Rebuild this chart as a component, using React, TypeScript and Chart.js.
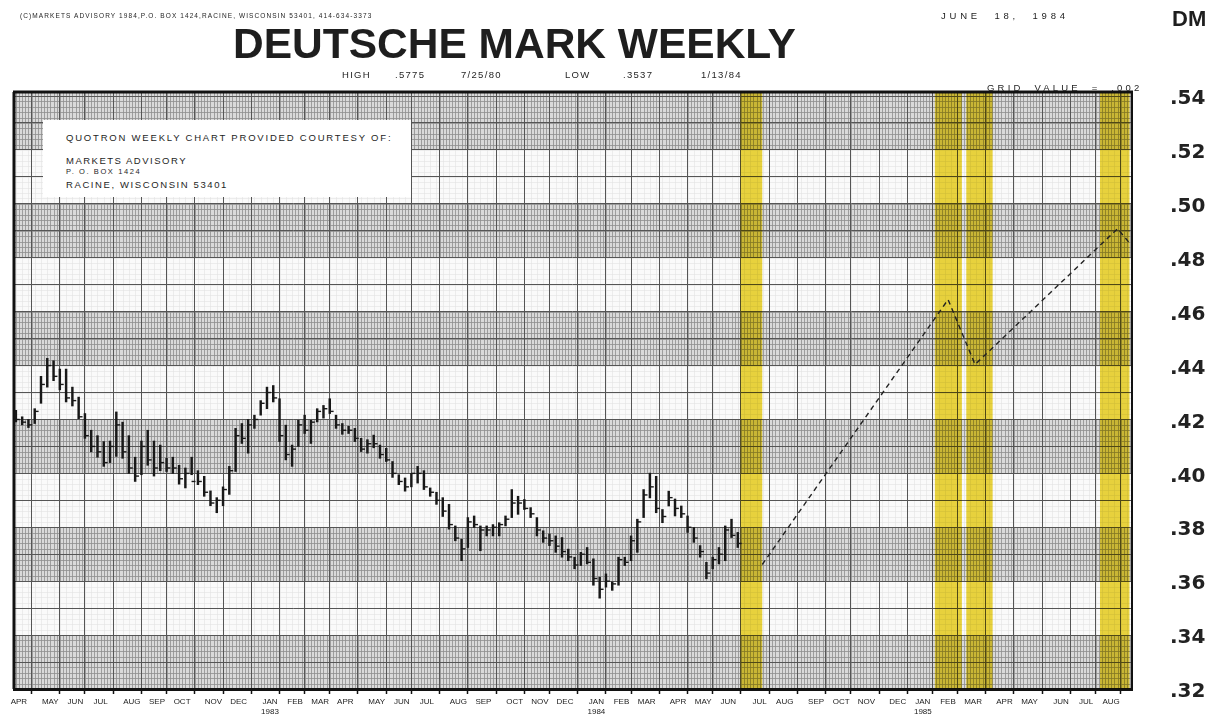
import React, { useEffect, useRef } from "react";
import { Chart, registerables } from "chart.js";

Chart.register(...registerables);

// ---------- DATA ----------
// weekly bars, week 0 = week ending Apr 2 1982, last = week ending Jun 15 1984
const weeklyHigh = [
  0.4234, 0.421, 0.42, 0.424, 0.436, 0.4427, 0.4418, 0.4387, 0.4387, 0.432,
  0.4283, 0.4222, 0.416, 0.414, 0.4118, 0.412, 0.4228, 0.419, 0.414, 0.406,
  0.412, 0.416, 0.412, 0.4105, 0.4056, 0.406, 0.403, 0.402, 0.406, 0.401,
  0.3989, 0.3935, 0.391, 0.395, 0.4026, 0.4167, 0.4185, 0.42, 0.4216, 0.427,
  0.432, 0.4326, 0.4277, 0.4179, 0.4105, 0.4197, 0.4216, 0.4197, 0.424, 0.4252,
  0.4277, 0.4216, 0.4185, 0.4175, 0.4167, 0.413, 0.4125, 0.4142, 0.4105, 0.4093,
  0.4044, 0.3995, 0.3983, 0.4, 0.4026, 0.401, 0.3946, 0.393, 0.391, 0.3885,
  0.3805, 0.3756, 0.3836, 0.3842, 0.3805, 0.3805, 0.381, 0.3817, 0.3842, 0.394,
  0.3915, 0.3903, 0.3873, 0.3836, 0.3787, 0.3775, 0.3768, 0.3762, 0.3719, 0.3689,
  0.3707, 0.3725, 0.3683, 0.3615, 0.3627, 0.3597, 0.3689, 0.3689, 0.3768, 0.383,
  0.394, 0.4001, 0.3989, 0.3866, 0.3934, 0.3905, 0.3879, 0.3842, 0.3799, 0.3732,
  0.367, 0.3689, 0.3725, 0.3805, 0.383, 0.3781,
];
const weeklyLow = [
  0.4191, 0.418, 0.417, 0.4185, 0.426, 0.432, 0.4344, 0.431, 0.4265, 0.425,
  0.4203, 0.413, 0.408, 0.406, 0.4026, 0.404, 0.4063, 0.4056, 0.4, 0.397,
  0.3995, 0.403, 0.399, 0.401, 0.4007, 0.4, 0.396, 0.3946, 0.3995, 0.3958,
  0.3915, 0.388, 0.3854, 0.388, 0.3922, 0.4007, 0.4111, 0.4075, 0.4167, 0.4216,
  0.424, 0.4265, 0.4118, 0.405, 0.4026, 0.41, 0.4148, 0.4111, 0.4191, 0.4205,
  0.4222, 0.4167, 0.4145, 0.4148, 0.4118, 0.4081, 0.4075, 0.4095, 0.4056, 0.4044,
  0.3985, 0.3958, 0.3934, 0.395, 0.3964, 0.394, 0.3915, 0.3885, 0.384, 0.3793,
  0.375, 0.3676, 0.3725, 0.3799, 0.3713, 0.3768, 0.3768, 0.3768, 0.3805, 0.3836,
  0.3848, 0.3866, 0.3836, 0.3768, 0.3744, 0.3732, 0.3707, 0.3689, 0.3676, 0.3646,
  0.3658, 0.3664, 0.3585, 0.3537, 0.3578, 0.3566, 0.3585, 0.3658, 0.3676, 0.3707,
  0.3836, 0.3909, 0.3854, 0.3817, 0.3879, 0.3842, 0.3836, 0.3781, 0.3744, 0.3689,
  0.3609, 0.3646, 0.3664, 0.3676, 0.3762, 0.3725,
];
const weeklyClose = [
  0.42, 0.419, 0.418, 0.423, 0.433, 0.44, 0.436, 0.433, 0.428, 0.427,
  0.421, 0.414, 0.41, 0.408, 0.404, 0.41, 0.418, 0.408, 0.402, 0.399,
  0.41, 0.405, 0.402, 0.404, 0.402, 0.402, 0.398, 0.4, 0.397, 0.397,
  0.393, 0.389, 0.39, 0.394, 0.401, 0.414, 0.413, 0.418, 0.42, 0.426,
  0.43, 0.428, 0.414, 0.407, 0.409, 0.418, 0.416, 0.419, 0.423, 0.424,
  0.423, 0.418, 0.416, 0.416, 0.413, 0.409, 0.411, 0.411, 0.407, 0.405,
  0.4, 0.397, 0.395, 0.4, 0.4, 0.395, 0.393, 0.39, 0.386, 0.381,
  0.376, 0.372, 0.382, 0.381, 0.379, 0.379, 0.38, 0.381, 0.383, 0.389,
  0.389, 0.387, 0.385, 0.379, 0.376, 0.375, 0.373, 0.371, 0.369, 0.366,
  0.37, 0.367, 0.361, 0.357, 0.36, 0.359, 0.368, 0.367, 0.375, 0.382,
  0.392, 0.395, 0.387, 0.384, 0.391, 0.387, 0.385, 0.38, 0.376, 0.371,
  0.363, 0.368, 0.37, 0.379, 0.377, 0.374,
];

// dashed projection (week position, value)
const projectionWeeks = [118.9, 148.5, 152.8, 175.5, 177.4];
const projectionValues = [0.3662, 0.4645, 0.4404, 0.4908, 0.4855];

// yellow highlight columns (week from, week to)
const highlightFrom = [115.4, 146.4, 151.4, 172.7];
const highlightTo = [118.9, 150.7, 155.6, 177.4];

// month ticks (week index of first weekly bar of month)
const monthLabels = [
  "APR", "MAY", "JUN", "JUL", "AUG", "SEP", "OCT", "NOV", "DEC",
  "JAN", "FEB", "MAR", "APR", "MAY", "JUN", "JUL", "AUG", "SEP", "OCT", "NOV", "DEC",
  "JAN", "FEB", "MAR", "APR", "MAY", "JUN", "JUL", "AUG", "SEP", "OCT", "NOV", "DEC",
  "JAN", "FEB", "MAR", "APR", "MAY", "JUN", "JUL", "AUG",
];
const monthWeeks = [
  0, 5, 9, 13, 18, 22, 26, 31, 35,
  40, 44, 48, 52, 57, 61, 65, 70, 74, 79, 83, 87,
  92, 96, 100, 105, 109, 113, 118, 122, 127, 131, 135, 140,
  144, 148, 152, 157, 161, 166, 170, 174,
];
const yearUnderMonth = [9, 21, 33];
const yearLabels = ["1983", "1984", "1985"];

// price axis
const yGridValues = [
  0.32, 0.33, 0.34, 0.35, 0.36, 0.37, 0.38, 0.39, 0.4, 0.41, 0.42, 0.43,
  0.44, 0.45, 0.46, 0.47, 0.48, 0.49, 0.5, 0.51, 0.52, 0.53, 0.54,
];
const denseBandLow = [0.32, 0.36, 0.4, 0.44, 0.48, 0.52];
const denseBandHigh = [0.34, 0.38, 0.42, 0.46, 0.5, 0.5415];
const GRID_VALUE = 0.002;

const X_MIN = -0.3;
const X_MAX = 177.8;
const Y_MIN = 0.32;
const Y_MAX = 0.5415;

const SANS = "'Liberation Sans', Arial, Helvetica, sans-serif";

const paperPlugin = {
  id: "paper",
  beforeDraw(chart: any) {
    const { ctx, chartArea: a, scales } = chart;
    const x = scales.x;
    const y = scales.y;
    ctx.save();
    ctx.fillStyle = "#ffffff";
    ctx.fillRect(0, 0, chart.width, chart.height);
    ctx.fillStyle = "#fafafa";
    ctx.fillRect(a.left, a.top, a.right - a.left, a.bottom - a.top);
    // faint fine grid everywhere
    ctx.strokeStyle = "#e2e2e2";
    ctx.lineWidth = 0.6;
    ctx.beginPath();
    for (let v = Y_MIN; v <= Y_MAX + 1e-9; v += GRID_VALUE) {
      const py = Math.round(y.getPixelForValue(v)) + 0.5;
      ctx.moveTo(a.left, py);
      ctx.lineTo(a.right, py);
    }
    for (let w = 0; w <= X_MAX; w += 1) {
      const px = Math.round(x.getPixelForValue(w)) + 0.5;
      ctx.moveTo(px, a.top);
      ctx.lineTo(px, a.bottom);
    }
    ctx.stroke();
    // dense bands
    for (let b = 0; b < denseBandLow.length; b++) {
      const top = y.getPixelForValue(Math.min(denseBandHigh[b], Y_MAX));
      const bot = y.getPixelForValue(denseBandLow[b]);
      ctx.fillStyle = "#d9d9d9";
      ctx.fillRect(a.left, top, a.right - a.left, bot - top);
      ctx.save();
      ctx.beginPath();
      ctx.rect(a.left, top, a.right - a.left, bot - top);
      ctx.clip();
      ctx.strokeStyle = "#8e8e8e";
      ctx.lineWidth = 0.8;
      ctx.beginPath();
      for (let v = denseBandLow[b]; v <= denseBandHigh[b] + 1e-9; v += GRID_VALUE) {
        const py = Math.round(y.getPixelForValue(v)) + 0.5;
        ctx.moveTo(a.left, py);
        ctx.lineTo(a.right, py);
      }
      for (let w = 0; w <= X_MAX; w += 0.5) {
        const px = Math.round(x.getPixelForValue(w)) + 0.5;
        ctx.moveTo(px, top);
        ctx.lineTo(px, bot);
      }
      ctx.stroke();
      ctx.restore();
    }
    ctx.restore();
  },
  beforeDatasetsDraw(chart: any) {
    const { ctx, chartArea: a, scales } = chart;
    const x = scales.x;
    ctx.save();
    ctx.globalCompositeOperation = "multiply";
    ctx.fillStyle = "rgb(236, 214, 62)";
    for (let i = 0; i < highlightFrom.length; i++) {
      const l = x.getPixelForValue(highlightFrom[i]);
      const r = x.getPixelForValue(highlightTo[i]);
      ctx.fillRect(l, a.top, r - l, a.bottom - a.top);
    }
    ctx.restore();
    // heavy frame (top and left)
    ctx.save();
    ctx.strokeStyle = "#111";
    ctx.lineWidth = 3;
    ctx.beginPath();
    ctx.moveTo(a.left - 1, a.top);
    ctx.lineTo(a.right + 1, a.top);
    ctx.moveTo(a.left, a.top);
    ctx.lineTo(a.left, a.bottom);
    ctx.stroke();
    ctx.restore();
  },
};

type TProps = {
  left: number;
  cy: number;
  size: number;
  text: string;
  weight?: number | string;
  ls?: number;
  ws?: number;
  family?: string;
};

function T({ left, cy, size, text, weight = 400, ls = 0, ws = 0, family = SANS }: TProps) {
  return (
    <div
      style={{
        position: "absolute",
        left,
        top: cy - size * 0.49,
        fontSize: size,
        lineHeight: 1,
        fontFamily: family,
        fontWeight: weight as any,
        letterSpacing: ls,
        wordSpacing: ws,
        whiteSpace: "nowrap",
        color: "#1e1e1e",
      }}
    >
      {text}
    </div>
  );
}

export default function App() {
  const ref = useRef<HTMLCanvasElement>(null);

  useEffect(() => {
    const canvas = ref.current;
    if (!canvas) return;
    const bars = weeklyHigh.map((h, i) => ({ x: i, y: [weeklyLow[i], h] }));
    const closes = weeklyClose.map((c, i) => ({ x: i + 0.3, y: c }));
    const proj = projectionWeeks.map((w, i) => ({ x: w, y: projectionValues[i] }));

    const chart = new Chart(canvas, {
      type: "bar",
      data: {
        datasets: [
          {
            type: "bar",
            data: bars as any,
            backgroundColor: "#181818",
            borderWidth: 0,
            barThickness: 1.8,
            grouped: false,
          } as any,
          {
            type: "scatter",
            data: closes as any,
            pointStyle: "line",
            pointRadius: 2,
            borderColor: "#181818",
            borderWidth: 1.4,
          } as any,
          {
            type: "line",
            data: proj as any,
            borderColor: "#222",
            borderWidth: 1.4,
            borderDash: [5, 4],
            pointRadius: 0,
            tension: 0,
            fill: false,
          } as any,
        ],
      },
      options: {
        responsive: false,
        animation: false,
        devicePixelRatio: 1,
        events: [],
        layout: { padding: { left: 14, top: 92, right: 0, bottom: 0 } },
        plugins: {
          legend: { display: false },
          tooltip: { enabled: false },
          title: { display: false },
        },
        scales: {
          x: {
            type: "linear",
            min: X_MIN,
            max: X_MAX,
            offset: false,
            afterBuildTicks: (s: any) => {
              s.ticks = monthWeeks.map((v) => ({ value: v }));
            },
            afterFit: (s: any) => {
              s.height = 29;
              s.paddingLeft = 0;
              s.paddingRight = 0;
            },
            ticks: {
              autoSkip: false,
              maxRotation: 0,
              minRotation: 0,
              padding: 3,
              labelOffset: 3,
              color: "#222",
              font: { family: SANS, size: 8 },
              callback: (_v: any, i: number) => {
                const yi = yearUnderMonth.indexOf(i);
                return yi >= 0 ? [monthLabels[i], yearLabels[yi]] : monthLabels[i];
              },
            },
            grid: {
              color: "#555",
              lineWidth: 1,
              tickLength: 5,
              tickColor: "#111",
              tickWidth: 1.5,
            },
            border: { display: true, color: "#111", width: 3 },
          },
          y: {
            type: "linear",
            position: "right",
            min: Y_MIN,
            max: Y_MAX,
            afterBuildTicks: (s: any) => {
              s.ticks = yGridValues.map((v) => ({ value: v }));
            },
            afterFit: (s: any) => {
              s.width = 89;
              s.paddingTop = 0;
              s.paddingBottom = 0;
            },
            ticks: {
              padding: 38,
              labelOffset: 3,
              color: "#222",
              font: { family: "'DejaVu Sans', sans-serif", size: 20, weight: "bold" },
              callback: (v: any) => {
                const n = Math.round(Number(v) * 100);
                return n % 2 === 0 ? "." + n : "";
              },
            },
            grid: { color: "#555", lineWidth: 1, drawTicks: false },
            border: { display: true, color: "#111", width: 2 },
          },
        },
      },
      plugins: [paperPlugin],
    });

    return () => chart.destroy();
  }, []);

  return (
    <div style={{ position: "absolute", left: 0, top: 0, width: 1221, height: 718, background: "#fff", overflow: "hidden" }}>
      <canvas ref={ref} width={1221} height={718} style={{ position: "absolute", left: 0, top: 0, display: "block" }} />
      <T left={20} cy={16} size={6.5} ls={1.1} text="(C)MARKETS ADVISORY 1984,P.O. BOX 1424,RACINE, WISCONSIN 53401, 414-634-3373" />
      <T left={233} cy={44} size={42.5} weight={700} text="DEUTSCHE MARK WEEKLY" />
      <T left={342} cy={75} size={9.5} ls={1.3} text="HIGH" />
      <T left={395} cy={75} size={9.5} ls={1.3} text=".5775" />
      <T left={461} cy={75} size={9.5} ls={1.3} text="7/25/80" />
      <T left={565} cy={75} size={9.5} ls={1.3} text="LOW" />
      <T left={623} cy={75} size={9.5} ls={1.3} text=".3537" />
      <T left={701} cy={75} size={9.5} ls={1.3} text="1/13/84" />
      <T left={941} cy={16} size={9.5} ls={3.8} ws={7} text="JUNE 18, 1984" />
      <T left={1172} cy={19} size={22} weight={700} text="DM" />
      <T left={987} cy={88} size={9.5} ls={3.2} ws={5} text="GRID VALUE = .002" />
      <div style={{ position: "absolute", left: 43, top: 120, width: 368, height: 77, background: "#fff" }} />
      <T left={66} cy={138} size={9.5} ls={1.8} text="QUOTRON WEEKLY CHART PROVIDED COURTESY OF:" />
      <T left={66} cy={161} size={9.5} ls={1.5} text="MARKETS ADVISORY" />
      <T left={66} cy={172} size={7.5} ls={1.6} text="P. O. BOX 1424" />
      <T left={66} cy={185} size={9.5} ls={1.6} text="RACINE, WISCONSIN 53401" />
    </div>
  );
}
